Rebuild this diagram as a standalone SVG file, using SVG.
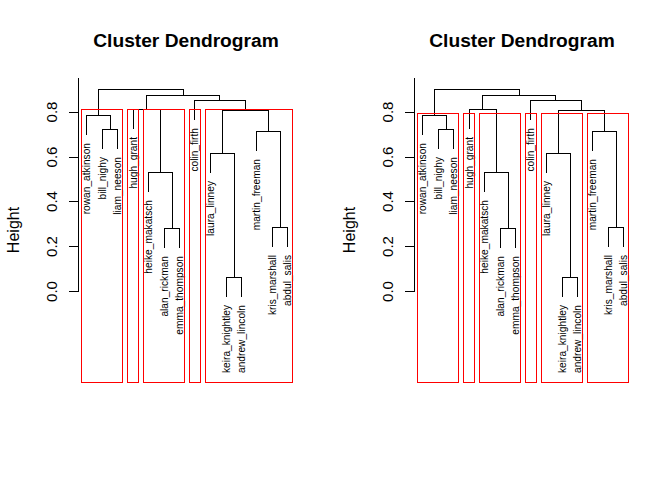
<svg xmlns="http://www.w3.org/2000/svg" width="672" height="480" viewBox="0 0 672 480">
<style>
text{font-family:"Liberation Sans",Arial,sans-serif;fill:#000}
.title{font-weight:bold;font-size:19.2px;text-anchor:middle}
.ylab{font-size:16px;text-anchor:middle}
.tick{font-size:15px;text-anchor:middle}
.leaf text{font-size:10.2px;text-anchor:end}
.dend path,.axis path{fill:none;stroke:#000;stroke-width:1;shape-rendering:crispEdges}
.boxes rect{fill:none;stroke:#f00;stroke-width:1;shape-rendering:crispEdges}
</style>
<rect width="672" height="480" fill="#fff"/>

<!-- LEFT PANEL -->
<g id="panel-left">
  <text class="title" x="186" y="46.5">Cluster Dendrogram</text>
  <g class="axis" id="axis-left">
    <path d="M78.5 78 V291 M69 291.5 H78.5 M69 246.5 H78.5 M69 201.5 H78.5 M69 157 H78.5 M69 112 H78.5"/>
    <text class="tick" transform="translate(57,291.5) rotate(-90)">0.0</text>
    <text class="tick" transform="translate(57,246.5) rotate(-90)">0.2</text>
    <text class="tick" transform="translate(57,201.5) rotate(-90)">0.4</text>
    <text class="tick" transform="translate(57,157) rotate(-90)">0.6</text>
    <text class="tick" transform="translate(57,112) rotate(-90)">0.8</text>
    <text class="ylab" transform="translate(18.5,230) rotate(-90)">Height</text>
  </g>
  <g class="dend" id="connectors-left">
    <path d="M102.5 149 V129.5 H117.5 V149"/>
    <path d="M86.5 135 V115.5 H110 V129.5"/>
    <path d="M164.5 248 V228.5 H179.5 V248"/>
    <path d="M148.5 192 V172.5 H172 V228.5"/>
    <path d="M133.5 129 V109.5 H160.25 V172.5"/>
    <path d="M226.5 297 V277.5 H241.5 V297"/>
    <path d="M210.5 173 V153.5 H234 V277.5"/>
    <path d="M272.5 247 V227.5 H287.5 V247"/>
    <path d="M256.5 151 V131.5 H280 V227.5"/>
    <path d="M222.25 153.5 V110.5 H268.25 V131.5"/>
    <path d="M194.5 120 V100.5 H245.25 V110.5"/>
    <path d="M146.9 109.5 V95.5 H219.9 V100.5"/>
    <path d="M98.25 115.5 V89.5 H183.4 V95.5"/>
  </g>
  <g class="leaf">
    <g id="L-rowan_atkinson"><text transform="translate(90,143) rotate(-90)">rowan_atkinson</text></g>
    <g id="L-bill_nighy"><text transform="translate(106,157) rotate(-90)">bill_nighy</text></g>
    <g id="L-liam_neeson"><text transform="translate(121,157) rotate(-90)">liam_neeson</text></g>
    <g id="L-hugh_grant"><text transform="translate(137,137) rotate(-90)">hugh_grant</text></g>
    <g id="L-heike_makatsch"><text transform="translate(152,200) rotate(-90)">heike_makatsch</text></g>
    <g id="L-alan_rickman"><text transform="translate(168,256) rotate(-90)">alan_rickman</text></g>
    <g id="L-emma_thompson"><text transform="translate(183,256) rotate(-90)">emma_thompson</text></g>
    <g id="L-colin_firth"><text transform="translate(198,128) rotate(-90)">colin_firth</text></g>
    <g id="L-laura_linney"><text transform="translate(214,181) rotate(-90)">laura_linney</text></g>
    <g id="L-keira_knightley"><text transform="translate(230,305) rotate(-90)">keira_knightley</text></g>
    <g id="L-andrew_lincoln"><text transform="translate(245,305) rotate(-90)">andrew_lincoln</text></g>
    <g id="L-martin_freeman"><text transform="translate(260,159) rotate(-90)">martin_freeman</text></g>
    <g id="L-kris_marshall"><text transform="translate(276,255) rotate(-90)">kris_marshall</text></g>
    <g id="L-abdul_salis"><text transform="translate(291,255) rotate(-90)">abdul_salis</text></g>
  </g>
  <g class="boxes" id="boxes-left">
    <rect x="81.5" y="109.5" width="41" height="273"/>
    <rect x="127.5" y="109.5" width="11" height="273"/>
    <rect x="143.5" y="109.5" width="41" height="273"/>
    <rect x="189.5" y="109.5" width="11" height="273"/>
    <rect x="205.5" y="109.5" width="87" height="273"/>
  </g>
</g>

<!-- RIGHT PANEL -->
<g id="panel-right" transform="translate(336,0)">
  <text class="title" x="186" y="46.5">Cluster Dendrogram</text>
  <g class="axis" id="axis-right">
    <path d="M78.5 78 V291 M69 291.5 H78.5 M69 246.5 H78.5 M69 201.5 H78.5 M69 157 H78.5 M69 112 H78.5"/>
    <text class="tick" transform="translate(57,291.5) rotate(-90)">0.0</text>
    <text class="tick" transform="translate(57,246.5) rotate(-90)">0.2</text>
    <text class="tick" transform="translate(57,201.5) rotate(-90)">0.4</text>
    <text class="tick" transform="translate(57,157) rotate(-90)">0.6</text>
    <text class="tick" transform="translate(57,112) rotate(-90)">0.8</text>
    <text class="ylab" transform="translate(18.5,230) rotate(-90)">Height</text>
  </g>
  <g class="dend" id="connectors-right">
    <path d="M102.5 149 V129.5 H117.5 V149"/>
    <path d="M86.5 135 V115.5 H110 V129.5"/>
    <path d="M164.5 248 V228.5 H179.5 V248"/>
    <path d="M148.5 192 V172.5 H172 V228.5"/>
    <path d="M133.5 129 V109.5 H160.25 V172.5"/>
    <path d="M226.5 297 V277.5 H241.5 V297"/>
    <path d="M210.5 173 V153.5 H234 V277.5"/>
    <path d="M272.5 247 V227.5 H287.5 V247"/>
    <path d="M256.5 151 V131.5 H280 V227.5"/>
    <path d="M222.25 153.5 V110.5 H268.25 V131.5"/>
    <path d="M194.5 120 V100.5 H245.25 V110.5"/>
    <path d="M146.9 109.5 V95.5 H219.9 V100.5"/>
    <path d="M98.25 115.5 V89.5 H183.4 V95.5"/>
  </g>
  <g class="leaf">
    <g id="R-rowan_atkinson"><text transform="translate(90,143) rotate(-90)">rowan_atkinson</text></g>
    <g id="R-bill_nighy"><text transform="translate(106,157) rotate(-90)">bill_nighy</text></g>
    <g id="R-liam_neeson"><text transform="translate(121,157) rotate(-90)">liam_neeson</text></g>
    <g id="R-hugh_grant"><text transform="translate(137,137) rotate(-90)">hugh_grant</text></g>
    <g id="R-heike_makatsch"><text transform="translate(152,200) rotate(-90)">heike_makatsch</text></g>
    <g id="R-alan_rickman"><text transform="translate(168,256) rotate(-90)">alan_rickman</text></g>
    <g id="R-emma_thompson"><text transform="translate(183,256) rotate(-90)">emma_thompson</text></g>
    <g id="R-colin_firth"><text transform="translate(198,128) rotate(-90)">colin_firth</text></g>
    <g id="R-laura_linney"><text transform="translate(214,181) rotate(-90)">laura_linney</text></g>
    <g id="R-keira_knightley"><text transform="translate(230,305) rotate(-90)">keira_knightley</text></g>
    <g id="R-andrew_lincoln"><text transform="translate(245,305) rotate(-90)">andrew_lincoln</text></g>
    <g id="R-martin_freeman"><text transform="translate(260,159) rotate(-90)">martin_freeman</text></g>
    <g id="R-kris_marshall"><text transform="translate(276,255) rotate(-90)">kris_marshall</text></g>
    <g id="R-abdul_salis"><text transform="translate(291,255) rotate(-90)">abdul_salis</text></g>
  </g>
  <g class="boxes" id="boxes-right">
    <rect x="81.5" y="113.5" width="41" height="269"/>
    <rect x="127.5" y="113.5" width="11" height="269"/>
    <rect x="143.5" y="113.5" width="41" height="269"/>
    <rect x="189.5" y="113.5" width="11" height="269"/>
    <rect x="205.5" y="113.5" width="41" height="269"/>
    <rect x="251.5" y="113.5" width="41" height="269"/>
  </g>
</g>
</svg>
